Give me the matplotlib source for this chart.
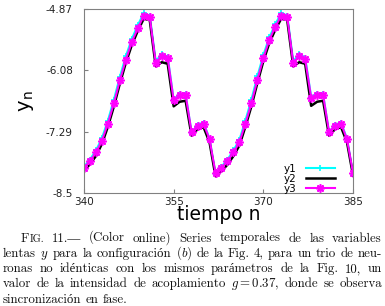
import matplotlib
matplotlib.use('Agg')
import matplotlib.pyplot as plt
import numpy as np

# ---------------- data ----------------
n = list(range(340, 386))
y1 = [-7.98, -7.84, -7.66, -7.42, -7.07, -6.66, -6.21, -5.80, -5.46, -5.19,
      -4.95, -5.00, -5.90, -5.76, -5.81, -6.66, -6.54, -6.55, -7.31, -7.15,
      -7.11, -7.43, -8.12, -7.98, -7.84, -7.66, -7.45, -7.07, -6.66, -6.20,
      -5.78, -5.43, -5.17, -4.95, -5.00, -5.90, -5.76, -5.83, -6.60, -6.54,
      -6.55, -7.31, -7.15, -7.11, -7.43, -8.12]
y2 = [-8.06, -7.93, -7.77, -7.53, -7.19, -6.79, -6.34, -5.93, -5.58, -5.30,
      -5.06, -5.09, -6.00, -5.92, -5.95, -6.79, -6.70, -6.68, -7.37, -7.24,
      -7.20, -7.50, -8.17, -8.07, -7.94, -7.77, -7.56, -7.19, -6.79, -6.33,
      -5.90, -5.54, -5.28, -5.06, -5.09, -6.00, -5.92, -5.95, -6.78, -6.70,
      -6.68, -7.37, -7.24, -7.20, -7.50, -8.15]
y3 = [-8.00, -7.87, -7.70, -7.47, -7.13, -6.73, -6.28, -5.87, -5.52, -5.25,
      -5.00, -5.03, -5.93, -5.80, -5.84, -6.67, -6.57, -6.57, -7.30, -7.17,
      -7.13, -7.44, -8.10, -8.00, -7.87, -7.70, -7.50, -7.13, -6.73, -6.27,
      -5.84, -5.48, -5.22, -5.00, -5.03, -5.93, -5.80, -5.86, -6.62, -6.57,
      -6.57, -7.30, -7.17, -7.13, -7.44, -8.10]
series_labels = ['y1', 'y2', 'y3']
xticks = [340, 355, 370, 385]
yticks = [-4.87, -6.08, -7.29, -8.5]
ytick_labels = ['-4.87', '-6.08', '-7.29', '-8.5']
xlabel = 'tiempo n'
ylabel = 'y$_\\mathregular{n}$'
caption_lines = [
    "FIG. 11.\u2014 (Color online) Series temporales de las variables",
    "lentas $y$ para la configuraci\u00f3n $(b)$ de la Fig. 4, para un trio de neu-",
    "ronas no id\u00e9nticas con los mismos par\u00e1metros de la Fig. 10, un",
    "valor de la intensidad de acoplamiento $g=0.37$, donde se observa",
    "sincronizaci\u00f3n en fase.",
]

# ---------------- figure ----------------
plt.rcParams['mathtext.fontset'] = 'cm'
W, H = 385, 306
fig = plt.figure(figsize=(W / 100, H / 100), dpi=100)
ax = fig.add_axes([84 / W, 1 - 193 / H, (353 - 84) / W, (193 - 9) / H])

ax.plot(n, y1, color='#00ffff', lw=1.5, marker='+', ms=5, mew=1.2, label=series_labels[0])
ax.plot(n, y2, color='black', lw=1.8, label=series_labels[1])
ax.plot(n, y3, color='#ff00ff', lw=1.5, marker=(8, 2, 0), ms=6, mew=1.2, label=series_labels[2])

ax.set_xlim(340, 385)
ax.set_ylim(-8.5, -4.87)
ax.set_xticks(xticks)
ax.set_xticklabels([str(v) for v in xticks])
ax.set_yticks(yticks)
ax.set_yticklabels(ytick_labels)
for sp in ax.spines.values():
    sp.set_color('#808080')
    sp.set_linewidth(0.8)
ax.tick_params(direction='in', length=3, width=0.8, color='#808080',
               labelsize=7.5, labelcolor='#222222')
ax.tick_params(axis='y', pad=8)
ax.tick_params(axis='x', pad=3)
for lab in ax.get_xticklabels() + ax.get_yticklabels():
    lab.set_family('DejaVu Sans')

ax.set_xlabel(xlabel, fontsize=13.5, family='DejaVu Sans', va='center')
ax.xaxis.set_label_coords(0.5, (193 - 215) / 184)
ax.set_ylabel(ylabel, fontsize=14, family='DejaVu Sans', va='center')
ax.yaxis.set_label_coords((27 - 84) / 269, 0.5)

leg = ax.legend(loc='lower right', frameon=False, markerfirst=False,
                prop={'family': 'DejaVu Sans', 'size': 7.5},
                handlelength=2.8, labelspacing=0.0, borderpad=0.0,
                borderaxespad=0.0, handletextpad=0.9,
                bbox_to_anchor=((335 - 84) / 269, (193 - 194) / 184))

# ---------------- caption (justified) ----------------
cap_family = ['cmr10', 'Liberation Serif']
renderer = fig.canvas.get_renderer()
lefts = [21.0, 3.0, 3.0, 3.0, 3.0]
baselines = [241.5, 256.8, 272.1, 287.4, 302.7]
right = 382.0


def pieces_for(word):
    if word == 'FIG.':
        return [('F', 1.0), ('IG.', 0.8)]
    return [(word, 1.0)]


def measure(word, size):
    tot = 0.0
    for txt, f in pieces_for(word):
        t = fig.text(0, 0, txt, fontsize=size * f, family=cap_family, va='baseline')
        tot += t.get_window_extent(renderer).width
        t.remove()
    return tot


# choose font size so that justified lines have natural word spacing
base = 10.0
space_em = 0.333
ratios = []
for i, line in enumerate(caption_lines[:-1]):
    words = line.split(' ')
    nat = sum(measure(w, base) for w in words) + (len(words) - 1) * base * 1.389 * space_em
    ratios.append((right - lefts[i]) / nat)
cap_size = base * min(ratios)

for i, line in enumerate(caption_lines):
    words = line.split(' ')
    widths = [measure(w, cap_size) for w in words]
    total = sum(widths)
    if i < len(caption_lines) - 1:
        gap = (right - lefts[i] - total) / (len(words) - 1)
    else:
        gap = cap_size * 1.389 * space_em
    x = lefts[i]
    for w, wdt in zip(words, widths):
        xx = x
        for txt, f in pieces_for(w):
            t = fig.text(xx / W, 1 - baselines[i] / H, txt, fontsize=cap_size * f,
                         family=cap_family, va='baseline', ha='left', color='#111111')
            xx += t.get_window_extent(renderer).width
        x += wdt + gap

fig.savefig('out.png', dpi=100)
